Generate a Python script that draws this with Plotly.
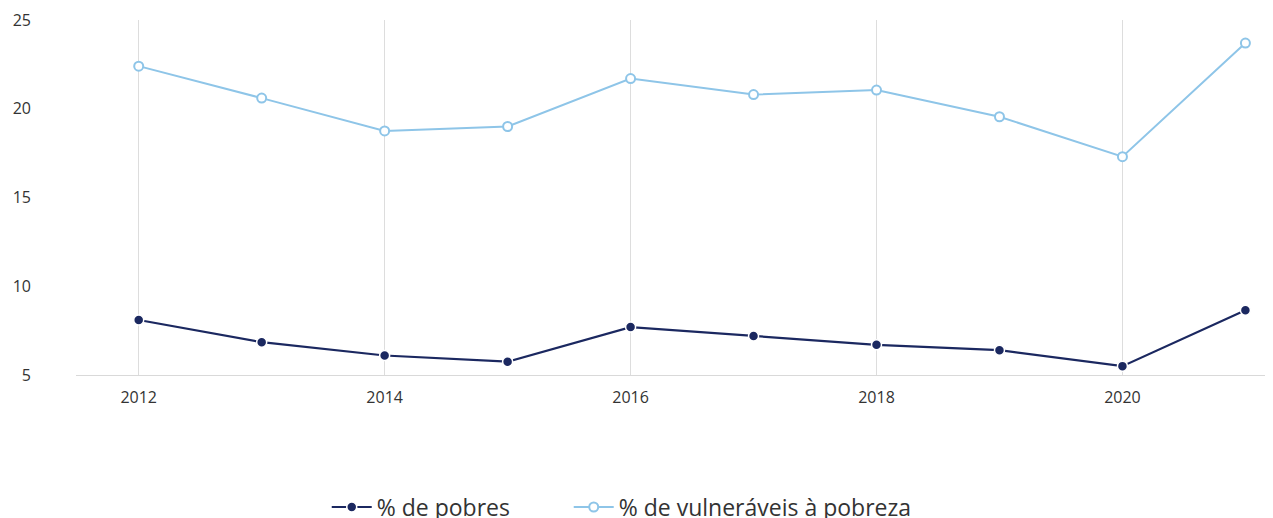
import plotly.graph_objects as go

years = [2012, 2013, 2014, 2015, 2016, 2017, 2018, 2019, 2020, 2021]
pobres = [8.1, 6.85, 6.1, 5.75, 7.7, 7.2, 6.7, 6.4, 5.5, 8.65]
vulneraveis = [22.4, 20.6, 18.75, 19.0, 21.7, 20.8, 21.05, 19.55, 17.3, 23.7]
x_ticks = [2012, 2014, 2016, 2018, 2020]
y_ticks = [5, 10, 15, 20, 25]
series_names = ["% de pobres", "% de vulneráveis à pobreza"]

dark = "#1b2860"
light = "#8ec5e8"

fig = go.Figure()
fig.add_trace(go.Scatter(
    x=years, y=pobres, mode="lines+markers", name=series_names[0] + "\u00a0" * 9,
    line=dict(color=dark, width=2.2),
    marker=dict(color=dark, size=10, line=dict(color="white", width=1.5)),
))
fig.add_trace(go.Scatter(
    x=years, y=vulneraveis, mode="lines+markers", name=series_names[1],
    line=dict(color=light, width=2),
    marker=dict(color="white", size=9, line=dict(color=light, width=2)),
))

fig.update_layout(
    width=1273, height=518,
    margin=dict(l=68, r=11, t=12, b=151, autoexpand=False),
    paper_bgcolor="white", plot_bgcolor="white",
    font=dict(family="Open Sans", color="#333333"),
    showlegend=True,
    legend=dict(orientation="h", x=0.21, xanchor="left", y=-0.372, yanchor="middle",
                font=dict(size=23, color="#333333"), itemwidth=40,
                bgcolor="rgba(0,0,0,0)"),
    xaxis=dict(range=[2011.49, 2021.2], tickvals=x_ticks, showgrid=True,
               gridcolor="#dddddd", gridwidth=1, showline=True, linecolor="#d9d9d9",
               zeroline=False, tickfont=dict(size=16, color="#333333"), ticks="",
               ticklabelstandoff=8, automargin=False),
    yaxis=dict(range=[5, 25], tickvals=y_ticks, showgrid=False, zeroline=False,
               showline=False, tickfont=dict(size=16, color="#333333"), ticks="",
               ticklabelstandoff=44, automargin=False),
)

fig.write_html("out.html")
